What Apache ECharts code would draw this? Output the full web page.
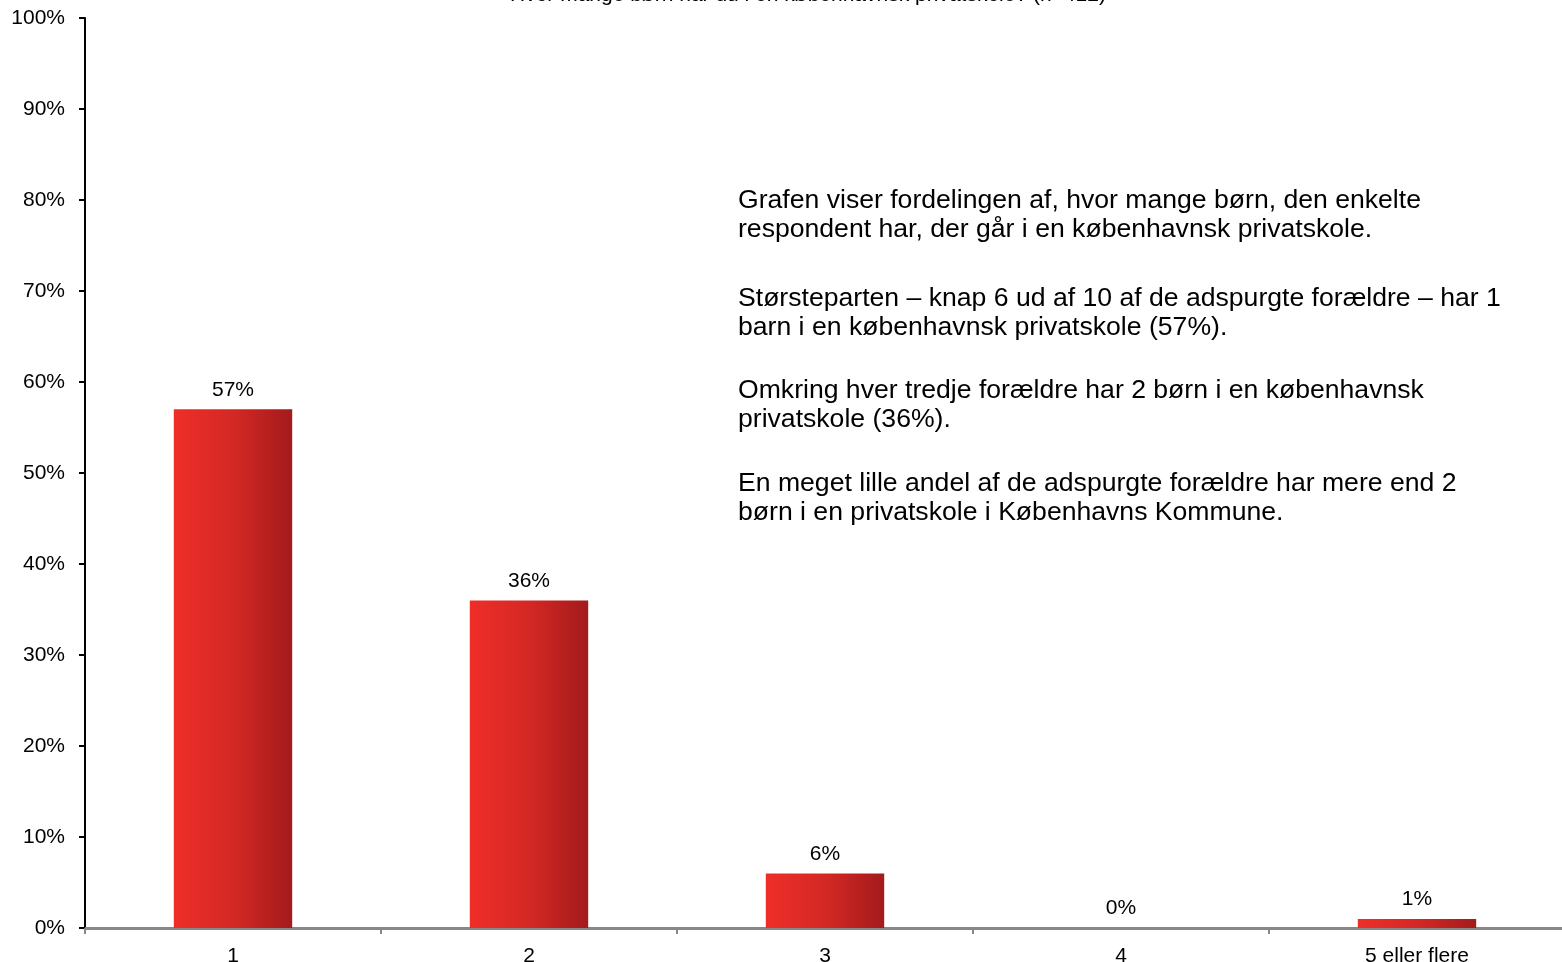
<!DOCTYPE html>
<html>
<head>
<meta charset="utf-8">
<script src="https://cdn.jsdelivr.net/npm/echarts@6/dist/echarts.min.js"></script>
<style>
  html, body { margin: 0; padding: 0; background: #fff; }
  #main { width: 1562px; height: 962px; }
</style>
</head>
<body>
<div id="main"></div>
<script>
// antal børn pr. respondent
var categories = ['1', '2', '3', '4', '5 eller flere'];
var shares = [57, 36, 6, 0, 1];
var yTicks = [0, 10, 20, 30, 40, 50, 60, 70, 80, 90, 100];
var titleText = 'Hvor mange børn har du i en københavnsk privatskole? (n=412)';
var noteParagraphs = [
  'Grafen viser fordelingen af, hvor mange børn, den enkelte\nrespondent har, der går i en københavnsk privatskole.',
  'Størsteparten – knap 6 ud af 10 af de adspurgte forældre – har 1\nbarn i en københavnsk privatskole (57%).',
  'Omkring hver tredje forældre har 2 børn i en københavnsk\nprivatskole (36%).',
  'En meget lille andel af de adspurgte forældre har mere end 2\nbørn i en privatskole i Københavns Kommune.'
];
var noteTops = [186, 284, 376, 469];

var chart = echarts.init(document.getElementById('main'));
var font = 'Liberation Sans, Arial, sans-serif';

var barColor = new echarts.graphic.LinearGradient(0, 0, 1, 0, [
  { offset: 0, color: '#ef2e28' },
  { offset: 0.5, color: '#d42825' },
  { offset: 1, color: '#a31b1b' }
]);

var notes = noteParagraphs.map(function (txt, i) {
  return {
    type: 'text',
    left: 738,
    top: noteTops[i],
    style: {
      text: txt,
      fontSize: 26.6,
      fontFamily: font,
      lineHeight: 29,
      fill: '#000'
    }
  };
});

var option = {
  backgroundColor: '#fff',
  textStyle: { fontFamily: font },
  title: {
    text: titleText,
    left: 505,
    top: -20,
    textStyle: { fontFamily: font, fontSize: 21, fontWeight: 'normal', color: '#000' }
  },
  grid: { left: 85, right: -3, top: 18, bottom: 34, containLabel: false, outerBoundsMode: 'none' },
  xAxis: {
    type: 'category',
    data: categories,
    axisLine: { lineStyle: { color: '#888', width: 3 } },
    axisTick: { show: true, length: 6, lineStyle: { color: '#888', width: 2 } },
    axisLabel: { color: '#000', fontSize: 21, fontFamily: font, margin: 18 }
  },
  yAxis: {
    type: 'value',
    min: yTicks[0],
    max: yTicks[yTicks.length - 1],
    interval: yTicks[1] - yTicks[0],
    splitLine: { show: false },
    axisLine: { show: true, lineStyle: { color: '#000', width: 2 } },
    axisTick: { show: true, length: 6, lineStyle: { color: '#000', width: 2 } },
    axisLabel: { color: '#000', fontSize: 21, fontFamily: font, margin: 20, formatter: '{value}%' }
  },
  series: [{
    type: 'bar',
    data: shares,
    barWidth: '40%',
    itemStyle: { color: barColor },
    label: {
      show: true,
      position: 'top',
      distance: 9,
      color: '#000',
      fontSize: 21,
      fontFamily: font,
      formatter: '{c}%'
    }
  }],
  graphic: notes
};

chart.setOption(option);
</script>
</body>
</html>
